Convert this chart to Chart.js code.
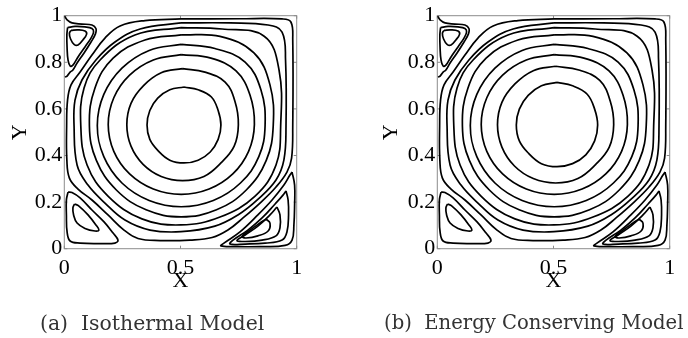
<!DOCTYPE html>
<html>
<head>
<meta charset="utf-8">
<script src="https://cdn.jsdelivr.net/npm/chart.js@4.4.0/dist/chart.umd.min.js"></script>
<style>
  body { margin: 0; background: #fff; }
  #wrap { position: relative; width: 688px; height: 338px; overflow: hidden; }
  canvas { position: absolute; top: 0; }
  .cap { position: absolute; top: 313px; font-family: "DejaVu Serif", serif; font-size: 20px;
         line-height: 20px; color: #333; white-space: pre; }
</style>
</head>
<body>
<div id="wrap">
  <canvas id="chartA" width="344" height="338" style="left:0"></canvas>
  <canvas id="chartB" width="344" height="338" style="left:344px"></canvas>
  <div class="cap" id="capA" style="left:40px; font-size:20.4px"></div>
  <div class="cap" id="capB" style="left:384px; font-size:19.6px"></div>
</div>
<script>
const xTicks = [0, 0.5, 1];
const yTicks = [0, 0.2, 0.4, 0.6, 0.8, 1];
const captions = ['(a)  Isothermal Model', '(b)  Energy Conserving Model'];

// primary vortex streamlines, innermost first (x, y)
const mainA1 = [[0.515,0.694],[0.576,0.682],[0.633,0.651],[0.662,0.593],[0.674,0.531],[0.662,0.469],[0.628,0.415],[0.576,0.380],[0.515,0.368],[0.454,0.380],[0.405,0.419],[0.368,0.469],[0.356,0.531],[0.368,0.593],[0.402,0.646],[0.454,0.682]];
const mainA2 = [[0.509,0.773],[0.605,0.758],[0.692,0.715],[0.735,0.630],[0.749,0.532],[0.731,0.440],[0.674,0.368],[0.601,0.310],[0.509,0.292],[0.417,0.310],[0.339,0.362],[0.287,0.440],[0.269,0.532],[0.287,0.624],[0.341,0.700],[0.417,0.755]];
const mainA3 = [[0.503,0.833],[0.631,0.818],[0.739,0.763],[0.799,0.660],[0.818,0.533],[0.793,0.418],[0.725,0.321],[0.623,0.256],[0.503,0.233],[0.383,0.256],[0.281,0.321],[0.213,0.418],[0.189,0.533],[0.213,0.648],[0.281,0.745],[0.383,0.810]];
const mainA4 = [[0.503,0.877],[0.648,0.859],[0.778,0.801],[0.846,0.682],[0.864,0.529],[0.837,0.395],[0.758,0.282],[0.641,0.207],[0.503,0.180],[0.365,0.207],[0.248,0.282],[0.170,0.395],[0.142,0.529],[0.170,0.662],[0.248,0.775],[0.365,0.851]];
const mainA5 = [[0.503,0.918],[0.670,0.911],[0.816,0.840],[0.885,0.703],[0.899,0.528],[0.869,0.379],[0.783,0.252],[0.655,0.167],[0.503,0.137],[0.352,0.167],[0.224,0.252],[0.138,0.379],[0.108,0.528],[0.132,0.690],[0.210,0.818],[0.347,0.896]];
const mainA6 = [[0.502,0.949],[0.679,0.943],[0.860,0.912],[0.924,0.767],[0.931,0.527],[0.911,0.359],[0.821,0.226],[0.670,0.136],[0.502,0.102],[0.334,0.128],[0.188,0.226],[0.098,0.359],[0.071,0.527],[0.085,0.690],[0.154,0.810],[0.304,0.917]];
const mainA7 = [[0.502,0.969],[0.713,0.969],[0.877,0.960],[0.937,0.930],[0.952,0.810],[0.954,0.527],[0.945,0.381],[0.911,0.295],[0.834,0.213],[0.747,0.145],[0.648,0.097],[0.502,0.073],[0.369,0.080],[0.261,0.123],[0.175,0.196],[0.102,0.273],[0.055,0.359],[0.042,0.527],[0.046,0.638],[0.076,0.724],[0.136,0.810],[0.218,0.887],[0.326,0.943]];
const mainA8 = [[0.502,0.986],[0.756,0.987],[0.937,0.986],[0.975,0.973],[0.983,0.896],[0.983,0.527],[0.978,0.389],[0.958,0.329],[0.911,0.265],[0.842,0.196],[0.769,0.132],[0.704,0.080],[0.636,0.048],[0.541,0.037],[0.412,0.035],[0.317,0.044],[0.257,0.080],[0.188,0.145],[0.119,0.209],[0.059,0.256],[0.022,0.303],[0.011,0.381],[0.010,0.527],[0.014,0.638],[0.029,0.703],[0.068,0.758],[0.119,0.831],[0.175,0.904],[0.240,0.956],[0.347,0.979]];

// energy conserving model: the two inner loops are a little larger
const mainB1 = [[0.515,0.714],[0.582,0.699],[0.645,0.663],[0.677,0.599],[0.690,0.531],[0.677,0.463],[0.639,0.403],[0.582,0.365],[0.515,0.352],[0.448,0.365],[0.394,0.408],[0.353,0.463],[0.340,0.531],[0.353,0.599],[0.391,0.658],[0.448,0.699]];
const mainB2 = [[0.509,0.783],[0.609,0.767],[0.699,0.722],[0.744,0.634],[0.759,0.532],[0.740,0.436],[0.681,0.361],[0.605,0.301],[0.509,0.282],[0.413,0.301],[0.332,0.355],[0.278,0.436],[0.259,0.532],[0.278,0.628],[0.334,0.707],[0.413,0.764]];

// top-left corner eddy
const tlInner = [[0.029,0.937],[0.059,0.939],[0.089,0.934],[0.096,0.921],[0.080,0.896],[0.059,0.874],[0.042,0.877],[0.027,0.900],[0.022,0.925]];
const tlOuter = [[0.014,0.949],[0.046,0.954],[0.089,0.952],[0.119,0.945],[0.126,0.930],[0.115,0.904],[0.089,0.866],[0.059,0.823],[0.037,0.788],[0.025,0.784],[0.016,0.810],[0.012,0.861],[0.011,0.917]];
const tlSep = [[0.001,0.999],[0.012,0.982],[0.033,0.969],[0.076,0.964],[0.119,0.960],[0.136,0.945],[0.134,0.922],[0.115,0.887],[0.085,0.840],[0.055,0.797],[0.037,0.767],[0.025,0.758],[0.012,0.741],[0.003,0.737]];

// bottom-left corner eddy
const blInner = [[0.044,0.192],[0.063,0.183],[0.102,0.145],[0.136,0.102],[0.149,0.080],[0.132,0.076],[0.089,0.087],[0.055,0.110],[0.040,0.145],[0.037,0.175]];
const blOuter = [[0.016,0.243],[0.033,0.241],[0.068,0.218],[0.119,0.166],[0.171,0.115],[0.210,0.067],[0.231,0.037],[0.218,0.024],[0.154,0.022],[0.068,0.024],[0.025,0.033],[0.012,0.072],[0.009,0.145],[0.009,0.209]];

// bottom-right corner eddy, outermost first
const br1 = [[0.980,0.329],[0.991,0.273],[0.991,0.188],[0.988,0.102],[0.980,0.037],[0.950,0.014],[0.842,0.009],[0.735,0.009],[0.674,0.012],[0.687,0.024],[0.756,0.072],[0.833,0.145],[0.894,0.209],[0.945,0.273],[0.971,0.316]];
const br2 = [[0.954,0.248],[0.963,0.209],[0.965,0.145],[0.958,0.072],[0.937,0.037],[0.864,0.024],[0.778,0.020],[0.713,0.020],[0.726,0.037],[0.790,0.080],[0.851,0.132],[0.907,0.192],[0.941,0.230]];
const br3 = [[0.915,0.179],[0.928,0.145],[0.928,0.089],[0.911,0.055],[0.851,0.037],[0.778,0.031],[0.743,0.035],[0.778,0.059],[0.833,0.097],[0.885,0.145]];
const br4 = [[0.868,0.127],[0.885,0.110],[0.877,0.076],[0.833,0.055],[0.782,0.046],[0.765,0.052],[0.799,0.080],[0.842,0.110]];

const eddyLoops = [tlInner, tlOuter, blInner, blOuter, br1, br2, br3, br4];
const openLines = [tlSep];

const isoLoops = [mainA1, mainA2, mainA3, mainA4, mainA5, mainA6, mainA7, mainA8].concat(eddyLoops);
const consLoops = [mainB1, mainB2, mainA3, mainA4, mainA5, mainA6, mainA7, mainA8].concat(eddyLoops);

function toDataset(pts, closed) {
    const list = closed ? pts.concat([pts[0]]) : pts;
    return {
        data: list.map(p => ({ x: p[0], y: p[1] })),
        showLine: true,
        borderColor: '#000',
        borderWidth: 1.7,
        pointRadius: 0,
        tension: 0.4,
        fill: false
    };
}

// axes box with inward ticks, like the original figure
const boxPlugin = {
    id: 'box',
    beforeDatasetsDraw(chart) {
        const { ctx, chartArea: a, scales } = chart;
        ctx.save();
        ctx.strokeStyle = '#8c8c8c';
        ctx.lineWidth = 1;
        ctx.strokeRect(a.left, a.top, a.right - a.left, a.bottom - a.top);
        ctx.beginPath();
        xTicks.forEach(v => {
            const p = scales.x.getPixelForValue(v);
            ctx.moveTo(p, a.bottom); ctx.lineTo(p, a.bottom - 3);
            ctx.moveTo(p, a.top); ctx.lineTo(p, a.top + 3);
        });
        yTicks.forEach(v => {
            const p = scales.y.getPixelForValue(v);
            ctx.moveTo(a.left, p); ctx.lineTo(a.left + 3, p);
            ctx.moveTo(a.right, p); ctx.lineTo(a.right - 3, p);
        });
        ctx.stroke();
        ctx.restore();
    }
};

function makeChart(id, loops, yWidth, padRight, yTitlePad) {
    const datasets = loops.map(l => toDataset(l, true)).concat(openLines.map(l => toDataset(l, false)));
    const tickFont = { family: 'Liberation Serif', size: 22 };
    return new Chart(document.getElementById(id).getContext('2d'), {
        type: 'scatter',
        data: { datasets: datasets },
        options: {
            responsive: false,
            animation: false,
            events: [],
            layout: { padding: { top: 15.7, right: padRight, bottom: 43.8, left: 0 } },
            plugins: { legend: { display: false }, tooltip: { enabled: false } },
            scales: {
                x: {
                    type: 'linear', min: 0, max: 1,
                    afterBuildTicks: s => { s.ticks = xTicks.map(v => ({ value: v })); },
                    afterFit: s => { s.height = 45.5; },
                    grid: { display: false, drawTicks: false },
                    border: { display: false },
                    ticks: { color: '#000', font: tickFont, padding: 6, maxRotation: 0, callback: v => String(v) },
                    title: { display: true, text: 'X', color: '#000', font: tickFont, padding: 0 }
                },
                y: {
                    type: 'linear', min: 0, max: 1,
                    afterBuildTicks: s => { s.ticks = yTicks.map(v => ({ value: v })); },
                    afterFit: s => { s.width = yWidth; },
                    grid: { display: false, drawTicks: false },
                    border: { display: false },
                    ticks: { color: '#000', font: tickFont, padding: 2, callback: v => String(v) },
                    title: { display: true, text: 'Y', color: '#000', font: tickFont, padding: { top: yTitlePad, bottom: 0 } }
                }
            }
        },
        plugins: [boxPlugin]
    });
}

makeChart('chartA', isoLoops, 64.3, 47.3, 6.8);
makeChart('chartB', consLoops, 93.3, 18.3, 34.3);

document.getElementById('capA').textContent = captions[0];
document.getElementById('capB').textContent = captions[1];
</script>
</body>
</html>
